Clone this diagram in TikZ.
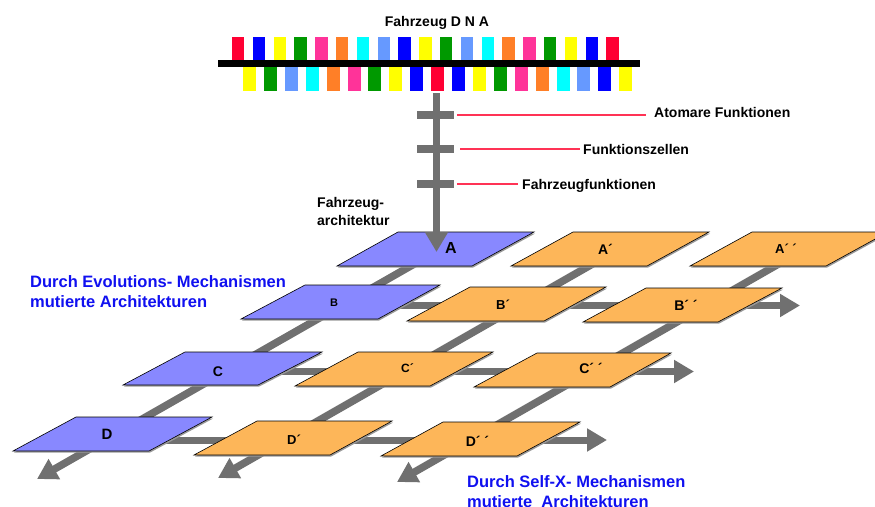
\documentclass[tikz,border=0pt]{standalone}
\usepackage{fontspec}
\setmainfont{Liberation Sans}
\usetikzlibrary{arrows.meta,calc}

\definecolor{dnaRed}{HTML}{FF0033}
\definecolor{dnaBlue}{HTML}{0000FF}
\definecolor{dnaYellow}{HTML}{FFFF00}
\definecolor{dnaGreen}{HTML}{009900}
\definecolor{dnaPink}{HTML}{FF3399}
\definecolor{dnaOrange}{HTML}{FF7F27}
\definecolor{dnaCyan}{HTML}{00FFFF}
\definecolor{dnaCorn}{HTML}{6699FF}
\definecolor{stem}{HTML}{707070}
\definecolor{leader}{HTML}{FF3355}
\definecolor{archBlue}{HTML}{8888FF}
\definecolor{archOrange}{HTML}{FDB659}
\definecolor{mechText}{HTML}{1010F0}

\tikzset{
  lbl/.style={font=\bfseries\fontsize{14}{17}\selectfont, inner sep=0pt, anchor=base west},
  mech/.style={font=\bfseries\fontsize{16.5}{20}\selectfont, text=mechText, inner sep=0pt, anchor=base west},
  plname/.style={inner sep=0pt, anchor=base, font=\bfseries\fontsize{#1}{#1}\selectfont},
  flow/.style={draw=stem, line width=7.5pt},
  flowarrow/.style={flow, -{Triangle[length=20pt,width=22pt]}},
  crossbar/.style={fill=stem, minimum width=37pt, minimum height=8pt, inner sep=0pt},
  leaderline/.style={draw=leader, line width=1.5pt},
  bluearch/.style={fill=archBlue, draw=black, line width=0.6pt},
  orangearch/.style={fill=archOrange, draw=black, line width=0.6pt},
  archshadow/.style={fill=black!40},
}

% one architecture plane: style, bottom-left, bottom-right, top-right, top-left
\newcommand\archplane[5]{%
  \fill[archshadow] ([shift={(1.2,1.5)}]#2) -- ([shift={(1.2,1.5)}]#3)
     -- ([shift={(1.2,1.5)}]#4) -- ([shift={(1.2,1.5)}]#5) -- cycle;
  \filldraw[#1] (#2) -- (#3) -- (#4) -- (#5) -- cycle;}

\begin{document}
\begin{tikzpicture}[x=1pt, y=-1pt]
\useasboundingbox (0,0) rectangle (875,506);
\clip (0,0) rectangle (875,506);

% ---------- DNA strand ----------
\foreach \c [count=\i from 0] in {dnaRed,dnaBlue,dnaYellow,dnaGreen,dnaPink,dnaOrange,dnaCyan,dnaCorn,dnaBlue,dnaYellow,dnaGreen,dnaCorn,dnaCyan,dnaOrange,dnaPink,dnaGreen,dnaYellow,dnaBlue,dnaRed}
  \fill[\c] ({232+20.8*\i},37) rectangle ++(12.3,23.5);
\foreach \c [count=\i from 0] in {dnaYellow,dnaGreen,dnaCorn,dnaCyan,dnaOrange,dnaPink,dnaGreen,dnaYellow,dnaBlue,dnaRed,dnaBlue,dnaYellow,dnaGreen,dnaPink,dnaOrange,dnaCyan,dnaCorn,dnaBlue,dnaYellow}
  \fill[\c] ({243+20.9*\i},67) rectangle ++(13,24);
\fill[black] (218,60) rectangle (640,67);

\node[lbl, anchor=base] (title) at (437,26) {Fahrzeug D N A};

% ---------- anchor points of the architecture grid ----------
\coordinate (dnaFoot) at (436.5,93);
\coordinate (archTop) at (436.5,252);
\coordinate (cA)  at (437,251);  \coordinate (e1) at (37,479);
\coordinate (cA2) at (617,250);  \coordinate (e2) at (218,478);
\coordinate (cA3) at (803,250);  \coordinate (e3) at (397,482);
\coordinate (rB) at (340,305.5); \coordinate (eB) at (800,305.5);
\coordinate (rC) at (222,371.5); \coordinate (eC) at (694,371.5);
\coordinate (rD) at (110,440);   \coordinate (eD) at (607,440);

% ---------- mutation paths (behind the planes) ----------
\draw[flowarrow] (cA)  -- (e1);
\draw[flowarrow] (cA2) -- (e2);
\draw[flowarrow] (cA3) -- (e3);
\draw[flowarrow, line width=7pt] (rB) -- (eB);
\draw[flowarrow, line width=7pt] (rC) -- (eC);
\draw[flowarrow, line width=7pt] (rD) -- (eD);

% ---------- architecture planes ----------
\archplane{bluearch}{337,266}{472,266}{534,232}{398,232}
\archplane{orangearch}{511,266}{647,266}{709,232}{573,232}
\archplane{orangearch}{690,266}{826,266}{888,232}{752,232}

\archplane{bluearch}{241,319}{378,319}{440,285}{305,285}
\archplane{orangearch}{407,321}{544,321}{606,287}{470,287}
\archplane{orangearch}{583,322}{718,322}{782,288}{646,288}

\archplane{bluearch}{123,385}{258,385}{322,352}{185,352}
\archplane{orangearch}{295,386}{430,386}{493,352}{358,352}
\archplane{orangearch}{474,387}{610,387}{671,353}{537,353}

\archplane{bluearch}{13,451}{149,451}{212,417}{76,417}
\archplane{orangearch}{194,455}{330,455}{392,421}{257,421}
\archplane{orangearch}{381,456}{517,456}{580,422}{443,422}

% ---------- stem from the DNA down to plane A ----------
\draw[flowarrow, line width=7pt] (dnaFoot) -- (archTop);
\node[crossbar] (bar1) at (435.5,115) {};
\node[crossbar] (bar2) at (435.5,149) {};
\node[crossbar] (bar3) at (435.5,184) {};

\node[lbl] (atom)  at (654,117) {Atomare Funktionen};
\node[lbl] (cells) at (583,154) {Funktionszellen};
\node[lbl] (vfun)  at (522,189) {Fahrzeugfunktionen};
\draw[leaderline] ([xshift=3pt]bar1.east) -- ([xshift=-8pt]bar1.east -| atom.west);
\draw[leaderline] ([xshift=6pt]bar2.east) -- ([xshift=-3pt]bar2.east -| cells.west);
\draw[leaderline] ([xshift=3pt]bar3.east) -- ([xshift=-4pt]bar3.east -| vfun.west);

\node[lbl] (arch1) at (317,207) {Fahrzeug-};
\node[lbl] (arch2) at (317,225) {architektur};

% ---------- plane names ----------
\node[plname=16] (nA)   at (451,253)   {A};
\node[plname=14] (nA1)  at (605.5,254) {A´};
\node[plname=13] (nA2)  at (786,253)   {A´ ´};
\node[plname=11] (nB)   at (334,306)   {B};
\node[plname=13] (nB1)  at (503,309)   {B´};
\node[plname=14] (nB2)  at (686,310)   {B´ ´};
\node[plname=14] (nC)   at (218,376)   {C};
\node[plname=12] (nC1)  at (407.5,372) {C´};
\node[plname=14] (nC2)  at (591,373)   {C´ ´};
\node[plname=15] (nD)   at (107,439)   {D};
\node[plname=13] (nD1)  at (294,444)   {D´};
\node[plname=14] (nD2)  at (477.5,446) {D´ ´};

% ---------- mechanism captions ----------
\node[mech] (evo1)  at (30,287)  {Durch Evolutions- Mechanismen};
\node[mech] (evo2)  at (30,307)  {mutierte Architekturen};
\node[mech] (self1) at (467,487) {Durch Self-X- Mechanismen};
\node[mech] (self2) at (467,507) {mutierte\ \ Architekturen};
\end{tikzpicture}
\end{document}
